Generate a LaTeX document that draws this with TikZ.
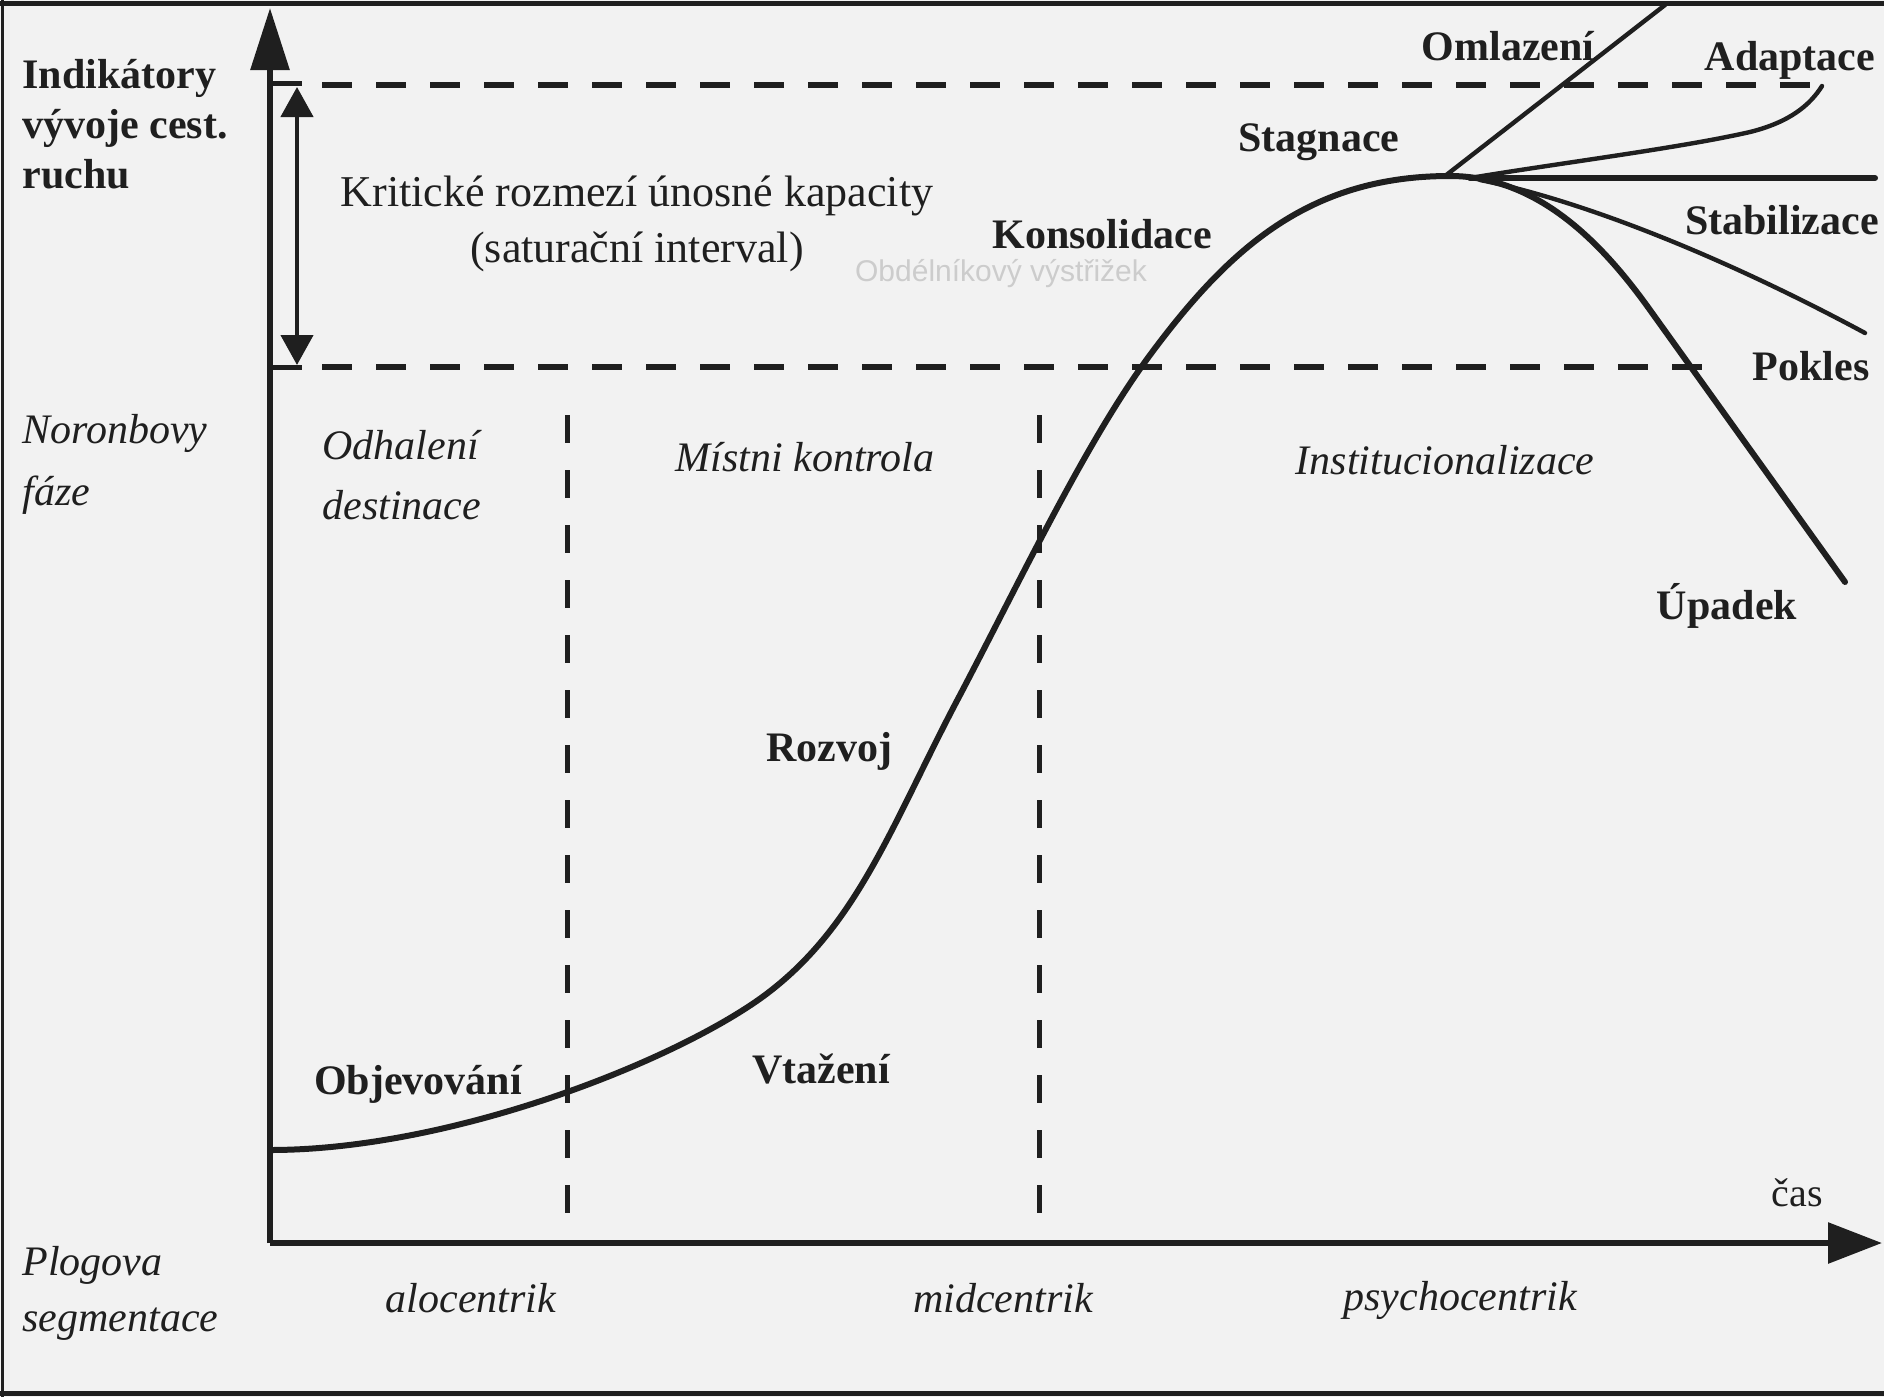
\documentclass[tikz,border=0pt]{standalone}
\usepackage{fontspec}
\setmainfont{Liberation Serif}
\setsansfont{Liberation Sans}
\usetikzlibrary{arrows.meta}
\definecolor{paper}{gray}{0.95}
\definecolor{ink}{gray}{0.12}
\begin{document}
\begin{tikzpicture}[x=0.5pt,y=-0.5pt,
  lab/.style={font=\fontsize{21}{25}\selectfont\bfseries, text=ink, inner sep=0pt},
  ital/.style={font=\fontsize{21}{30}\selectfont\itshape, text=ink, inner sep=0pt},
  plain/.style={font=\fontsize{22}{28}\selectfont, text=ink, inner sep=0pt},
  axisline/.style={ink, line width=3pt},
  mcurve/.style={ink, line width=3pt, line cap=round, line join=round},
  branch/.style={ink, line width=2.2pt, line cap=round, line join=round},
  hdash/.style={ink, line width=2.8pt, dash pattern=on 15pt off 12pt},
  vdash/.style={ink, line width=2.5pt, dash pattern=on 14pt off 13.5pt},
]
\fill[paper] (0,0) rectangle (1884,1397);
\useasboundingbox (0,0) rectangle (1884,1397);
% frame of the scan
\draw[ink, line width=2.5pt] (0,3) -- (1884,3);
\draw[ink, line width=2.5pt] (0,1393) -- (1884,1393);
\draw[ink, line width=1.5pt] (2,0) -- (2,1397);
% axes
\coordinate (O) at (270,1243);
\coordinate (Ytip) at (270,8);
\coordinate (Xtip) at (1882,1243);
\draw[axisline, -{Triangle[length=31pt,width=19pt]}] (O) -- (Ytip);
\draw[axisline, -{Triangle[length=27pt,width=20pt]}] (O) -- (Xtip);
% saturation interval
\coordinate (Dtop) at (297,87);
\coordinate (Dbot) at (297,365);
\draw[ink, line width=2.2pt, {Triangle[length=15pt,width=16pt]}-{Triangle[length=15pt,width=16pt]}] (Dtop) -- (Dbot);
\draw[ink, line width=2.5pt] (270,83) -- (302,83);
\draw[ink, line width=2.5pt] (270,367) -- (302,367);
\draw[hdash] (322,85) -- (1812,85);
\draw[hdash] (322,367) -- (1712,367);
% vertical phase separators
\draw[vdash] (567,415) -- (567,1240);
\draw[vdash] (1039,415) -- (1039,1225);
% main curve (S-curve to the peak, then decline)
\coordinate (C0) at (270,1150);
\coordinate (C1) at (761,998);
\coordinate (C2) at (960,695);
\coordinate (C3) at (1150,355);
\coordinate (Peak) at (1450,176);
\coordinate (C5) at (1650,310);
\coordinate (Cend) at (1845,582);
\draw[mcurve] (C0) .. controls (450,1150) and (670,1063) .. (C1)
  .. controls (858,928) and (892,823) .. (C2)
  .. controls (1023,575) and (1087,440) .. (C3)
  .. controls (1230,247) and (1310,176) .. (Peak)
  .. controls (1540,176) and (1605,247) .. (C5)
  -- (Cend);
% branches
\coordinate (Split) at (1470,178);
\coordinate (StabEnd) at (1875,178);
\coordinate (OmlEnd) at (1665,5);
\coordinate (AdEnd) at (1822,86);
\coordinate (PokEnd) at (1865,333);
\draw[mcurve] (Split) -- (StabEnd);
\draw[branch] (1445,176) -- (OmlEnd);
\draw[branch] (Split) .. controls (1560,163) and (1680,148) .. (1750,132)
  .. controls (1790,122) and (1810,105) .. (AdEnd);
\draw[branch] (1480,180) .. controls (1580,200) and (1720,255) .. (PokEnd);
% labels
\node[lab, anchor=west, align=left] (ind) at (22,124) {Indikátory\\vývoje cest.\\ruchu};
\node[plain, align=center] (krit) at (637,224) {Kritické rozmezí únosné kapacity\\(saturační interval)};
\node[font=\sffamily\fontsize{15}{18}\selectfont, text=gray!40, inner sep=0pt] (wm) at (1001,274) {Obdélníkový výstřižek};
\node[lab] (kons) at (1102,234) {Konsolidace};
\node[lab] (stag) at (1319,142) {Stagnace};
\node[lab] (omla) at (1508,46) {Omlazení};
\node[lab] (adap) at (1790,60) {Adaptace};
\node[lab] (stab) at (1782,220) {Stabilizace};
\node[lab] (pokl) at (1811,366) {Pokles};
\node[lab] (upad) at (1727,606) {Úpadek};
\node[lab] (rozv) at (829,751) {Rozvoj};
\node[lab] (objv) at (418,1084) {Objevování};
\node[lab] (vtaz) at (821,1069) {Vtažení};
\node[ital, anchor=west, align=left, font=\fontsize{21}{31}\selectfont\itshape] (nor) at (22,464) {Noronbovy\\fáze};
\node[ital, anchor=west, align=left] (odh) at (322,475) {Odhalení\\destinace};
\node[ital] (mist) at (805,457) {Místni kontrola};
\node[ital] (inst) at (1445,460) {Institucionalizace};
\node[plain, font=\fontsize{20}{24}\selectfont] (cas) at (1797,1193) {čas};
\node[ital, anchor=west, align=left, font=\fontsize{21}{28}\selectfont\itshape] (plog) at (22,1293) {Plogova\\segmentace};
\node[ital] (alo) at (471,1298) {alocentrik};
\node[ital] (mid) at (1003,1298) {midcentrik};
\node[ital] (psy) at (1460,1300) {psychocentrik};
\end{tikzpicture}
\end{document}
